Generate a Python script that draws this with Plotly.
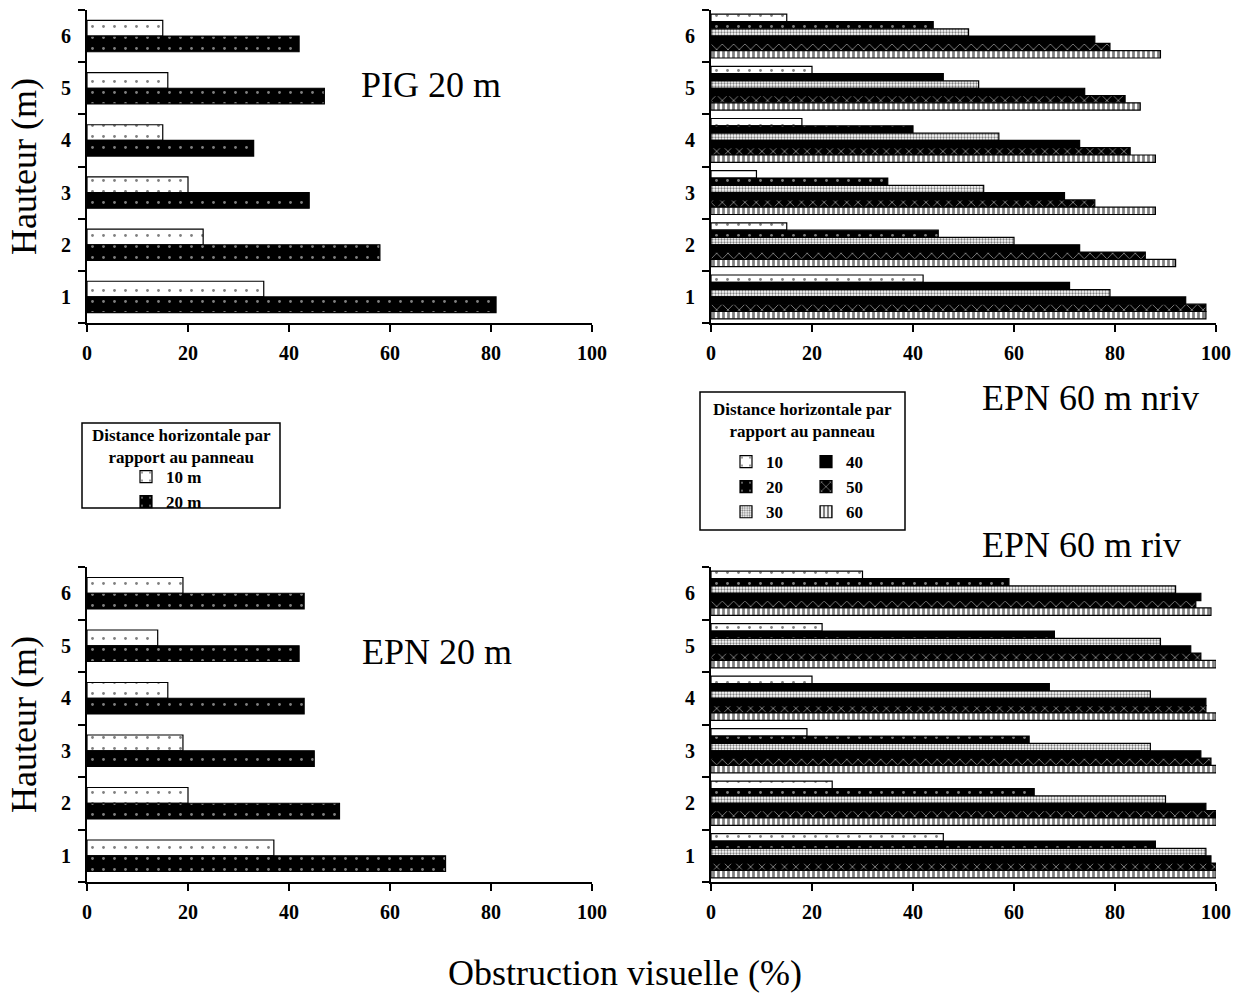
import plotly.graph_objects as go

heights = ["1", "2", "3", "4", "5", "6"]

# Left panels (PIG 20 m, EPN 20 m): distance 10 m and 20 m
left_series = ["10 m", "20 m"]
pig20_10 = [35, 23, 20, 15, 16, 15]
pig20_20 = [81, 58, 44, 33, 47, 42]
epn20_10 = [37, 20, 19, 16, 14, 19]
epn20_20 = [71, 50, 45, 43, 42, 43]

# Right panels: distances 10..60 m
right_series = ["10", "20", "30", "40", "50", "60"]
nriv = {
    "10": [42, 15, 9, 18, 20, 15],
    "20": [71, 45, 35, 40, 46, 44],
    "30": [79, 60, 54, 57, 53, 51],
    "40": [94, 73, 70, 73, 74, 76],
    "50": [98, 86, 76, 83, 82, 79],
    "60": [98, 92, 88, 88, 85, 89],
}
riv = {
    "10": [46, 24, 19, 20, 22, 30],
    "20": [88, 64, 63, 67, 68, 59],
    "30": [98, 90, 87, 87, 89, 92],
    "40": [99, 98, 97, 98, 95, 97],
    "50": [100, 100, 99, 98, 97, 96],
    "60": [100, 100, 100, 100, 100, 99],
}

x_ticks = [0, 20, 40, 60, 80, 100]

FONT = "Liberation Serif"

patterns = {
    "10": dict(color="white", pattern=dict(shape=".", bgcolor="white", fgcolor="black", size=11, solidity=0.05)),
    "20": dict(color="black", pattern=dict(shape=".", bgcolor="black", fgcolor="white", size=11, solidity=0.05)),
    "30": dict(color="white", pattern=dict(shape=".", bgcolor="white", fgcolor="black", size=3, solidity=0.45)),
    "40": dict(color="black", pattern=dict(shape="")),
    "50": dict(color="black", pattern=dict(shape="x", bgcolor="black", fgcolor="white", size=8, solidity=0.22)),
    "60": dict(color="white", pattern=dict(shape="|", bgcolor="white", fgcolor="black", size=5, solidity=0.55)),
}

W, H = 1246, 996


def px_x(p):
    return p / W


def px_y(p):
    return 1 - p / H


fig = go.Figure()

# axes geometry (screen pixel boxes)
boxes = {
    "tl": (87, 592, 10, 323),
    "tr": (711, 1216, 10, 323),
    "bl": (87, 592, 567, 882),
    "br": (711, 1216, 567, 882),
}
axis_ids = {"tl": ("x", "y"), "tr": ("x2", "y2"), "bl": ("x3", "y3"), "br": ("x4", "y4")}

tick_font = dict(family=FONT, size=20, color="black", weight="bold")
layout_axes = {}
for key, (x0, x1, y0, y1) in boxes.items():
    xa, ya = axis_ids[key]
    xname = "xaxis" if xa == "x" else "xaxis" + xa[1:]
    yname = "yaxis" if ya == "y" else "yaxis" + ya[1:]
    layout_axes[xname] = dict(
        domain=[px_x(x0), px_x(x1)], anchor=ya, range=[0, 100], tickvals=x_ticks,
        ticks="outside", ticklen=7, tickwidth=2, tickcolor="black", ticklabelstandoff=4,
        showline=True, linewidth=2, linecolor="black", showgrid=False, zeroline=False,
        tickfont=tick_font, automargin=False,
    )
    layout_axes[yname] = dict(
        domain=[px_y(y1), px_y(y0)], anchor=xa, type="category", categoryorder="array",
        categoryarray=heights, range=[-0.5, 5.5], tickson="boundaries",
        ticks="outside", ticklen=7, tickwidth=2, tickcolor="black", ticklabelstandoff=10,
        showline=True, linewidth=2, linecolor="black", showgrid=False, zeroline=False,
        tickfont=tick_font, automargin=False,
    )
    if key in ("tl", "bl"):
        layout_axes[yname]["title"] = dict(text="Hauteur (m)", font=dict(family=FONT, size=36, color="black"), standoff=13)

# Left panels: two bars per group, 10 m on top
bw_left = 0.3
for key, vals10, vals20 in (("tl", pig20_10, pig20_20), ("bl", epn20_10, epn20_20)):
    xa, ya = axis_ids[key]
    for i, (name, vals) in enumerate(zip(left_series, (vals10, vals20))):
        pk = "10" if i == 0 else "20"
        fig.add_trace(go.Bar(
            x=vals, y=heights, orientation="h", name=name, xaxis=xa, yaxis=ya,
            width=bw_left, offset=-i * bw_left,
            marker=dict(color=patterns[pk]["color"], pattern=patterns[pk]["pattern"],
                        line=dict(color="black", width=1.2)),
            showlegend=(key == "tl"), legend="legend", legendrank=i + 1,
        ))

# Right panels: six bars per group, 10 on top
bw_right = 0.14
n = len(right_series)
for key, data in (("tr", nriv), ("br", riv)):
    xa, ya = axis_ids[key]
    for i, name in enumerate(right_series):
        fig.add_trace(go.Bar(
            x=data[name], y=heights, orientation="h", name=name, xaxis=xa, yaxis=ya,
            width=bw_right, offset=n * bw_right / 2 - (i + 1) * bw_right,
            marker=dict(color=patterns[name]["color"], pattern=patterns[name]["pattern"],
                        line=dict(color="black", width=1.2)),
            showlegend=(key == "tr"), legend="legend2" if i < 3 else "legend3", legendrank=i + 1,
        ))

legend_font = dict(family=FONT, size=17, color="black", weight="bold")
common_leg = dict(xanchor="left", yanchor="top", font=legend_font, bgcolor="rgba(0,0,0,0)",
                  tracegroupgap=0, borderwidth=0)
fig.update_layout(
    width=W, height=H, margin=dict(l=0, r=0, t=0, b=0),
    paper_bgcolor="white", plot_bgcolor="white", barmode="overlay",
    font=dict(family=FONT, color="black"),
    legend=dict(x=px_x(126), y=px_y(459), **common_leg),
    legend2=dict(x=px_x(726), y=px_y(444), **common_leg),
    legend3=dict(x=px_x(806), y=px_y(444), **common_leg),
    **layout_axes,
)

# legend boxes and titles
fig.add_shape(type="rect", xref="paper", yref="paper", x0=px_x(82), x1=px_x(280), y0=px_y(508), y1=px_y(423),
              line=dict(color="black", width=1.5), fillcolor="rgba(0,0,0,0)")
fig.add_shape(type="rect", xref="paper", yref="paper", x0=px_x(700), x1=px_x(905), y0=px_y(530), y1=px_y(392),
              line=dict(color="black", width=1.5), fillcolor="rgba(0,0,0,0)")
title_font = dict(family=FONT, size=17, color="black")
for cx, cy in ((181, 446), (802, 421)):
    fig.add_annotation(text="<b>Distance horizontale par<br>rapport au panneau</b>", xref="paper", yref="paper",
                       x=px_x(cx), y=px_y(cy), xanchor="center", yanchor="middle",
                       showarrow=False, align="center", font=title_font)

# panel labels
big = dict(family=FONT, size=36, color="black")
for text, x, y in (("PIG 20 m", 431, 85), ("EPN 20 m", 437, 652),
                   ("EPN 60 m nriv", 1090, 398), ("EPN 60 m riv", 1081, 545),
                   ("Obstruction visuelle (%)", 625, 973)):
    fig.add_annotation(text=text, xref="paper", yref="paper", x=px_x(x), y=px_y(y),
                       xanchor="center", yanchor="middle", showarrow=False, font=big)

fig.write_html(
    "out.html",
    config={"displayModeBar": False},
    post_script="document.body.style.margin='0px';document.documentElement.style.overflow='hidden';",
)
